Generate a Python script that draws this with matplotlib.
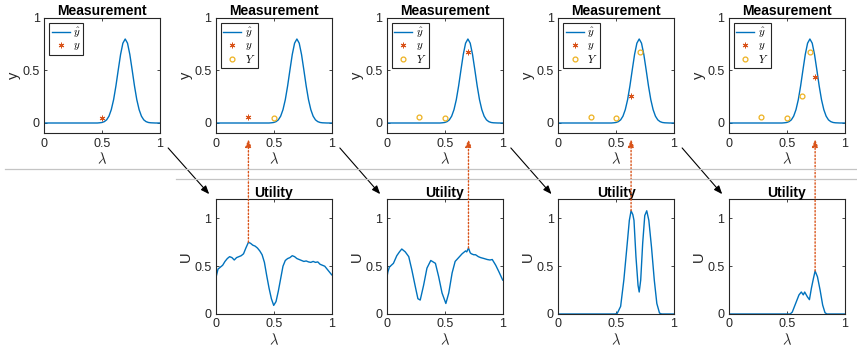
import matplotlib
matplotlib.use("Agg")
import matplotlib.pyplot as plt
from matplotlib.lines import Line2D
from matplotlib.patches import ConnectionPatch
from matplotlib.transforms import blended_transform_factory
import numpy as np

plt.rcParams['font.family'] = ['Liberation Sans', 'DejaVu Sans']
plt.rcParams['mathtext.fontset'] = 'cm'

## model curve y_hat(lambda)
lam_fit = [0.0, 0.46, 0.48, 0.50, 0.52, 0.54, 0.56, 0.58, 0.60, 0.62, 0.64, 0.66, 0.68, 0.70,
           0.72, 0.74, 0.76, 0.78, 0.80, 0.82, 0.84, 0.86, 0.88, 0.90, 0.92, 0.96, 1.0]
yhat = [0.0, 0.0, 0.002, 0.005, 0.013, 0.030, 0.065, 0.127, 0.222, 0.353, 0.505, 0.652, 0.760, 0.80,
        0.760, 0.652, 0.505, 0.353, 0.222, 0.127, 0.065, 0.030, 0.013, 0.005, 0.002, 0.0, 0.0]

## measurements, in the order they were taken
meas_x = [0.50, 0.282, 0.705, 0.63, 0.745]
meas_y = [0.05, 0.06, 0.675, 0.255, 0.44]

## utility after each step
u1_x = [0.00, 0.01, 0.02, 0.04, 0.06, 0.08, 0.10, 0.12, 0.14, 0.16, 0.18, 0.20, 0.22, 0.24,
        0.26, 0.282, 0.30, 0.32, 0.34, 0.36, 0.38, 0.40, 0.42, 0.44, 0.46, 0.48, 0.50, 0.52,
        0.54, 0.56, 0.58, 0.60, 0.62, 0.64, 0.66, 0.68, 0.70, 0.72, 0.74, 0.76, 0.78, 0.80,
        0.82, 0.84, 0.86, 0.88, 0.90, 0.92, 0.94, 0.96, 0.98, 1.00]
u1 = [0.37, 0.42, 0.47, 0.49, 0.51, 0.55, 0.58, 0.60, 0.59, 0.565, 0.59, 0.60, 0.61, 0.63,
      0.69, 0.75, 0.74, 0.72, 0.71, 0.69, 0.66, 0.62, 0.54, 0.40, 0.27, 0.16, 0.09, 0.13,
      0.24, 0.37, 0.50, 0.56, 0.58, 0.59, 0.61, 0.60, 0.58, 0.57, 0.56, 0.55, 0.555, 0.545,
      0.54, 0.55, 0.54, 0.545, 0.52, 0.51, 0.50, 0.47, 0.44, 0.41]

u2_x = [0.00, 0.01, 0.023, 0.04, 0.058, 0.087, 0.11, 0.13, 0.16, 0.19, 0.217, 0.246, 0.269,
        0.289, 0.318, 0.347, 0.38, 0.42, 0.448, 0.477, 0.51, 0.535, 0.564, 0.59, 0.62, 0.65,
        0.68, 0.69, 0.705, 0.72, 0.73, 0.75, 0.766, 0.79, 0.81, 0.84, 0.867, 0.89, 0.91,
        0.94, 0.968, 1.00]
u2 = [0.37, 0.44, 0.49, 0.51, 0.53, 0.61, 0.65, 0.68, 0.65, 0.60, 0.46, 0.29, 0.16,
      0.146, 0.30, 0.48, 0.56, 0.53, 0.39, 0.22, 0.11, 0.22, 0.43, 0.55, 0.59, 0.63,
      0.66, 0.65, 0.69, 0.64, 0.63, 0.62, 0.62, 0.60, 0.59, 0.58, 0.57, 0.565, 0.57,
      0.51, 0.44, 0.355]

u3_x = [0.00, 0.49, 0.51, 0.54, 0.568, 0.597, 0.615, 0.63, 0.645, 0.655, 0.672, 0.69, 0.70,
        0.713, 0.73, 0.748, 0.765, 0.783, 0.806, 0.83, 0.852, 0.875, 0.893, 1.00]
u3 = [0.0, 0.0, 0.005, 0.08, 0.36, 0.74, 0.98, 1.08, 1.04, 0.98, 0.60, 0.30, 0.23,
      0.355, 0.74, 1.03, 1.08, 0.98, 0.70, 0.355, 0.11, 0.01, 0.0, 0.0]

u4_x = [0.00, 0.53, 0.548, 0.577, 0.606, 0.626, 0.643, 0.655, 0.678, 0.696, 0.713, 0.73,
        0.745, 0.765, 0.788, 0.81, 0.83, 0.846, 1.00]
u4 = [0.0, 0.0, 0.02, 0.11, 0.20, 0.23, 0.20, 0.23, 0.18, 0.15, 0.27, 0.37,
      0.45, 0.39, 0.25, 0.094, 0.014, 0.0, 0.0]

util_x = [u1_x, u2_x, u3_x, u4_x]
util_y = [u1, u2, u3, u4]

c_line = '#0072BD'
c_y = '#D95319'
c_Y = '#EDB120'
c_ax = '#262626'

fig = plt.figure(figsize=(8.57, 3.53), dpi=100)
W, H = 857.0, 353.0
lefts = [44, 215.7, 386.7, 558, 728.7]
aw = 116


def style(ax, ylim):
  ax.set_xlim(0, 1)
  ax.set_ylim(*ylim)
  ax.set_xticks([0, 0.5, 1])
  ax.set_xticklabels(['0', '0.5', '1'])
  ax.set_yticks([0, 0.5, 1])
  ax.set_yticklabels(['0', '0.5', '1'])
  ax.tick_params(direction='in', length=2.5, width=0.6, top=True, right=True,
                 labelsize=9, colors=c_ax, pad=3)
  for s in ax.spines.values():
    s.set_color(c_ax)
    s.set_linewidth(0.8)
  ax.set_xlabel(r'$\lambda$', fontsize=10.5, color=c_ax, labelpad=1)


top_axes = []
for k in range(5):
  ax = fig.add_axes([lefts[k] / W, 1 - 133.5 / H, aw / W, 115.5 / H])
  ax.plot(lam_fit, yhat, color=c_line, lw=1.0, label=r'$\hat{y}$')
  ax.plot(meas_x[k], meas_y[k], marker=(6, 2, 0), color=c_y, ms=4, mew=0.7,
          label=r'$y$', ls='none')
  if k > 0:
    ax.plot(meas_x[:k], meas_y[:k], 'o', mfc='none', mec=c_Y, ms=3.5, mew=0.9,
            label=r'$Y$', ls='none')
  style(ax, (-0.1, 1))
  ax.set_ylabel('y', fontsize=10.5, color=c_ax, labelpad=1)
  ax.set_title('Measurement', fontsize=10, fontweight='bold', pad=2)
  leg = ax.legend(loc='upper left', fontsize=8, handlelength=1.6, handletextpad=0.3,
                  borderpad=0.25, labelspacing=0.05, borderaxespad=0.45, fancybox=False,
                  framealpha=1)
  leg.get_frame().set_edgecolor(c_ax)
  leg.get_frame().set_linewidth(0.8)
  top_axes.append(ax)

bot_axes = []
for k in range(4):
  ax = fig.add_axes([lefts[k + 1] / W, 1 - 314 / H, aw / W, 114.7 / H])
  ax.plot(util_x[k], util_y[k], color=c_line, lw=1.0)
  style(ax, (0, 1.2))
  ax.set_ylabel('U', fontsize=10.5, color=c_ax, labelpad=1)
  ax.set_title('Utility', fontsize=10, fontweight='bold', pad=2)
  bot_axes.append(ax)

## separators between the two rows
fig.add_artist(Line2D([5 / W, 1], [1 - 169.3 / H] * 2, color='#c4c4c4', lw=0.9))
fig.add_artist(Line2D([176 / W, 1], [1 - 178.7 / H] * 2, color='#c4c4c4', lw=0.9))

## black arrows: measurement -> next utility
for k in range(4):
  con = ConnectionPatch(xyA=(1.07, -0.125), coordsA=top_axes[k].transAxes,
                        xyB=(-0.056, 1.045), coordsB=bot_axes[k].transAxes,
                        arrowstyle='-|>,head_length=0.5,head_width=0.2',
                        color='black', lw=0.8)
  fig.add_artist(con)

## orange dotted arrows: utility maximum -> new measurement
for k in range(4):
  xk = meas_x[k + 1]
  uk = max(util_y[k])
  tb = blended_transform_factory(top_axes[k + 1].transData, top_axes[k + 1].transAxes)
  con = ConnectionPatch(xyA=(xk, uk), coordsA=bot_axes[k].transData,
                        xyB=(xk, -0.05), coordsB=tb,
                        arrowstyle='-|>,head_length=0.45,head_width=0.18',
                        color=c_y, lw=1.0, linestyle=(0, (1, 1.5)))
  fig.add_artist(con)

fig.savefig('out.png', dpi=100)
